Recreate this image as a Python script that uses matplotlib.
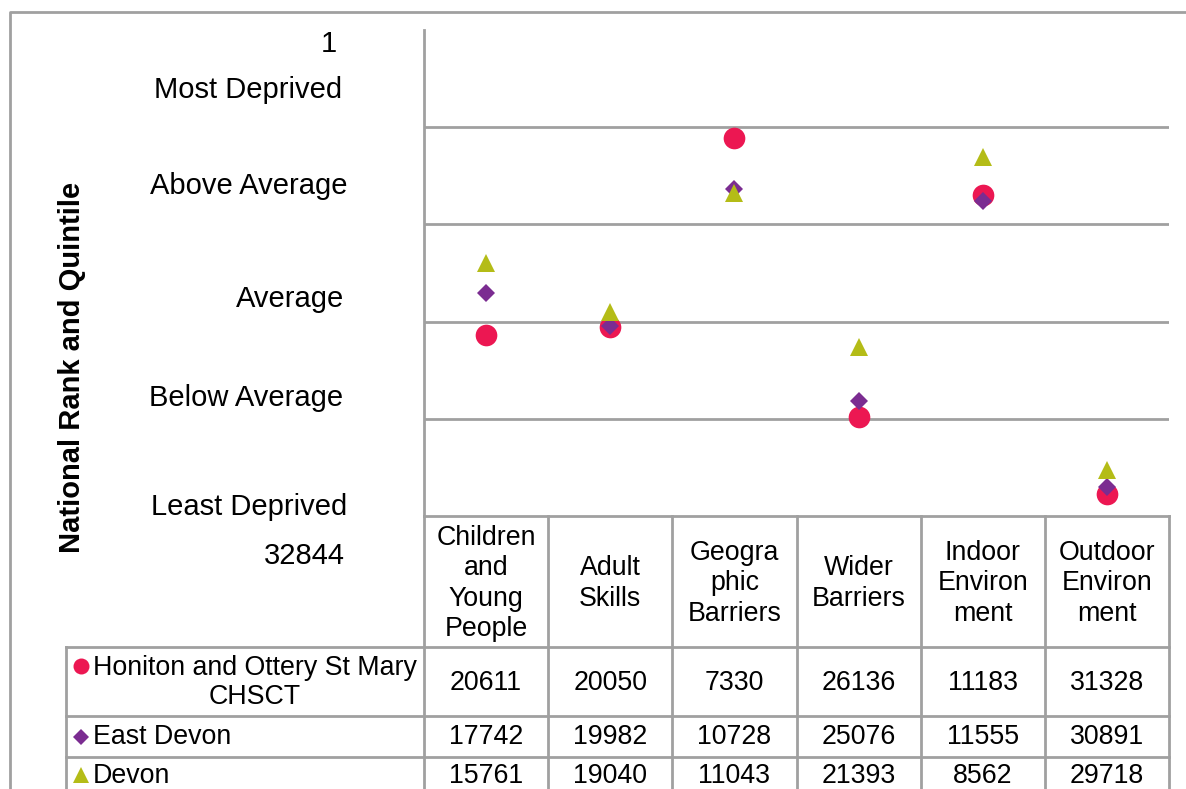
import numpy as np
import matplotlib
matplotlib.use("Agg")
import matplotlib.pyplot as plt

plt.rcParams['font.family'] = ['Liberation Sans', 'DejaVu Sans']

# data
categories = ["Children\nand\nYoung\nPeople", "Adult\nSkills", "Geogra\nphic\nBarriers",
              "Wider\nBarriers", "Indoor\nEnviron\nment", "Outdoor\nEnviron\nment"]
series_names = ["Honiton and Ottery St Mary\nCHSCT", "East Devon", "Devon"]
honiton = [20611, 20050, 7330, 26136, 11183, 31328]
east_devon = [17742, 19982, 10728, 25076, 11555, 30891]
devon = [15761, 19040, 11043, 21393, 8562, 29718]
rank_min, rank_max = 1, 32844
band_labels = ["Most Deprived", "Above Average", "Average", "Below Average", "Least Deprived"]

series = [honiton, east_devon, devon]
markers = ['o', 'D', '^']
msizes = [15.6, 9.2, 13.5]
leg_msizes = [11.5, 8, 11.5]
colors = ['#EC1752', '#7B2C91', '#B4BC17']
grey = '#A0A0A0'

W, H = 1186, 789
fig = plt.figure(figsize=(W / 100, H / 100), dpi=100)

def px_axes(x0, y0, x1, y1):
    return fig.add_axes([x0 / W, 1 - y1 / H, (x1 - x0) / W, (y1 - y0) / H])

# background axes in pixel coords for the table and labels
bg = fig.add_axes([0, 0, 1, 1])
bg.set_xlim(0, W)
bg.set_ylim(H, 0)
bg.axis('off')

# outer chart frame
bg.plot([10, 10, W], [H, 12, 12], color=grey, lw=2, solid_capstyle='butt')

px0, py0, px1, py1 = 424, 30, 1169, 516
ax = px_axes(px0, py0, px1, py1)
ax.patch.set_visible(False)
n = len(categories)
ax.set_xlim(-0.5, n - 0.5)
ax.set_ylim(rank_max, rank_min)
bounds = np.linspace(rank_min, rank_max, 6)
ax.set_yticks(bounds[1:-1])
ax.set_xticks([])
ax.yaxis.grid(True, color=grey, lw=2)
ax.tick_params(length=0, labelleft=False)
for s in ['top', 'right', 'bottom']:
    ax.spines[s].set_visible(False)
ax.spines['left'].set_color(grey)
ax.spines['left'].set_linewidth(2)

x = np.arange(n)
for vals, m, ms, c in zip(series, markers, msizes, colors):
    ax.plot(x, vals, linestyle='none', marker=m, markersize=ms, color=c,
            markeredgewidth=0, clip_on=False)

# left side labels
fs_left = 21
bg.text(337, 44, str(rank_min), ha='right', va='center', fontsize=fs_left)
bg.text(345, 556, str(rank_max), ha='right', va='center', fontsize=fs_left)
for lab, yy, xr in zip(band_labels, [90, 186, 299, 398, 507], [342, 348, 344, 343, 347]):
    bg.text(xr, yy, lab, ha='right', va='center', fontsize=fs_left)
bg.text(72, 367, "National Rank and Quintile", rotation=90, ha='center', va='center',
        fontsize=21, fontweight='bold')

# data table
col_w = (px1 - px0) / n
col_edges = [px0 + k * col_w for k in range(n + 1)]
row_edges = [516, 647, 716, 757, 798]
leg_x0 = 66
fs = 19.3
lkw = dict(color=grey, lw=2, solid_capstyle='projecting')
bg.plot([px0, px1], [row_edges[0]] * 2, **lkw)
for xe in col_edges:
    bg.plot([xe, xe], [row_edges[0], row_edges[-1]], **lkw)
bg.plot([leg_x0, leg_x0], [row_edges[1], row_edges[-1]], **lkw)
for ye in row_edges[1:-1]:
    bg.plot([leg_x0, px1], [ye, ye], **lkw)

for k, cat in enumerate(categories):
    bg.text((col_edges[k] + col_edges[k + 1]) / 2, (row_edges[0] + row_edges[1]) / 2 + 2,
            cat, ha='center', va='center', fontsize=fs, linespacing=1.23)

for r, (name, vals) in enumerate(zip(series_names, series)):
    yc = (row_edges[r + 1] + row_edges[r + 2]) / 2 + 1
    if r == 2:
        yc = 776
    my = yc - 1
    tx = 93
    if '\n' in name:
        bg.text(tx, yc, name, ha='left', va='center', fontsize=fs, multialignment='center',
                linespacing=1.18)
        my = 666
    else:
        bg.text(tx, yc, name, ha='left', va='center', fontsize=fs)
    bg.plot([81], [my], linestyle='none', marker=markers[r], color=colors[r],
            markersize=leg_msizes[r], markeredgewidth=0)
    for k, v in enumerate(vals):
        bg.text((col_edges[k] + col_edges[k + 1]) / 2, yc, str(v), ha='center', va='center',
                fontsize=fs)

fig.savefig("out.png", dpi=100)
